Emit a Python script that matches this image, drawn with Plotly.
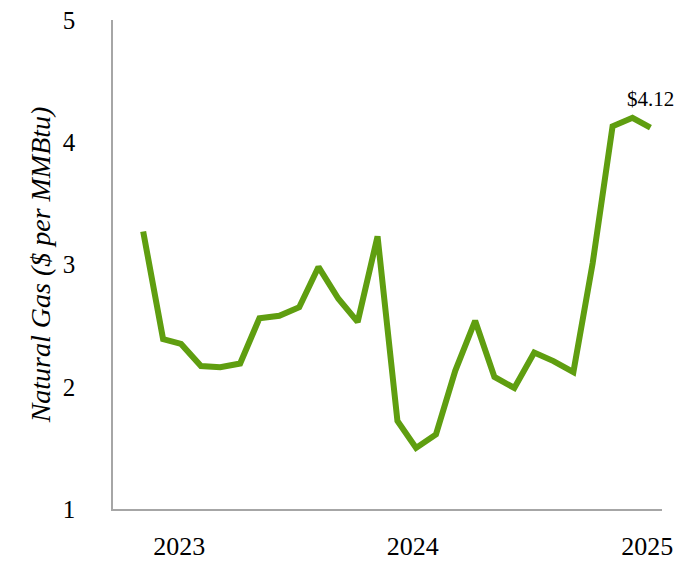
import plotly.graph_objects as go

months = ["2023-01-01", "2023-02-01", "2023-03-01", "2023-04-01", "2023-05-01", "2023-06-01",
          "2023-07-01", "2023-08-01", "2023-09-01", "2023-10-01", "2023-11-01", "2023-12-01",
          "2024-01-01", "2024-02-01", "2024-03-01", "2024-04-01", "2024-05-01", "2024-06-01",
          "2024-07-01", "2024-08-01", "2024-09-01", "2024-10-01", "2024-11-01", "2024-12-01",
          "2025-01-01", "2025-02-01", "2025-03-01"]
price = [3.27, 2.39, 2.35, 2.17, 2.16, 2.19, 2.56, 2.58, 2.65, 2.98, 2.72, 2.53,
         3.23, 1.72, 1.50, 1.61, 2.13, 2.54, 2.08, 1.99, 2.28, 2.21, 2.12, 3.01,
         4.13, 4.20, 4.12]
tick_vals = ["2023-02-26", "2024-02-25", "2025-02-24"]
tick_text = ["2023", "2024", "2025"]
y_ticks = [1, 2, 3, 4, 5]
last_label = "$4.12"

font_family = "Liberation Serif, Times New Roman, serif"
green = "#5f9e10"
axis_gray = "#a6a6a6"

fig = go.Figure()
fig.add_trace(go.Scatter(x=months, y=price, mode="lines",
                         line=dict(color=green, width=6), hoverinfo="skip"))
fig.add_annotation(x=months[-1], y=price[-1], text=last_label, showarrow=False,
                   yshift=29, font=dict(family=font_family, size=21, color="black"))

fig.update_layout(
    width=666, height=560,
    margin=dict(l=105, r=12, t=12, b=59, autoexpand=False),
    paper_bgcolor="white", plot_bgcolor="white",
    showlegend=False,
    font=dict(family=font_family, color="black"),
    xaxis=dict(type="date", range=["2022-11-15", "2025-03-19"],
               tickvals=tick_vals, ticktext=tick_text, showgrid=False, zeroline=False,
               showline=True, linecolor=axis_gray, linewidth=1.5, ticks="",
               ticklabeloverflow="allow", automargin=False,
               tickfont=dict(family=font_family, size=26), ticklabelstandoff=13),
    yaxis=dict(range=[1, 5], tickvals=y_ticks, showgrid=False, zeroline=False,
               showline=True, linecolor=axis_gray, linewidth=1.5, ticks="",
               ticklabeloverflow="allow", automargin=False,
               tickfont=dict(family=font_family, size=25), ticklabelstandoff=31,
               title=dict(text="<i>Natural Gas ($ per MMBtu)</i>",
                          font=dict(family=font_family, size=28), standoff=4)),
)

fig.write_html("out.html")
